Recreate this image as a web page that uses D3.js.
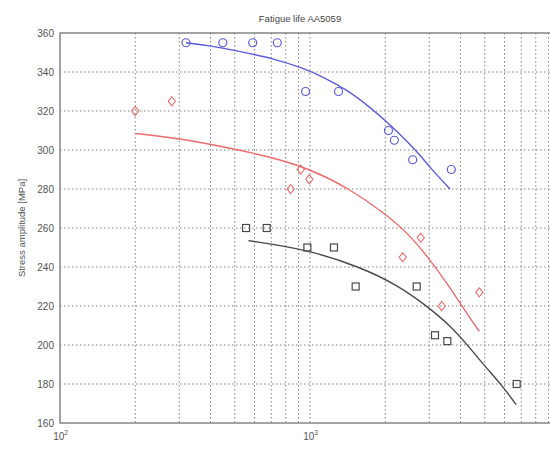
<!DOCTYPE html>
<html><head><meta charset="utf-8">
<script src="https://cdn.jsdelivr.net/npm/d3@7"></script>
<style>body{margin:0;background:#fff}svg{display:block}text{font-family:"Liberation Sans",Arial,sans-serif}</style>
</head><body><svg id="c" width="550" height="450"></svg>
<script>
const title = "Fatigue life AA5059";
const yLabel = "Stress amplitude [MPa]";
const yTicks = [160,180,200,220,240,260,280,300,320,340,360];
const xDecades = [100,1000];
// series A (blue circles)
const blueN = [319,448,590,740,960,1300,2060,2175,2575,3675];
const blueS = [355,355,355,355,330,330,310,305,295,290];
const blueFitN = [319,398,525,711,938,1127,1402,1738,2089,2672,3020,3631];
const blueFitS = [355,353.5,350.5,347,342,337.5,331,322,313,299.5,291,280];
// series B (red diamonds)
const redN = [200,280,837,918,994,2349,2773,3364,4755];
const redS = [320,325,280,290,285,245,255,220,227];
const redFitN = [200,300,500,692,994,1445,1965,2436,2973,3631,4297,4755];
const redFitS = [308.5,306,300.5,296.5,290.5,280,268,258,245,229.5,215,207];
// series C (black squares)
const blackN = [555,671,976,1247,1523,2672,3162,3542,6710];
const blackS = [260,260,250,250,230,230,205,202,180];
const blackFitN = [567,976,1585,2222,2973,3631,4297,4937,5934,6668];
const blackFitS = [253.5,249,240,231,219.5,210,199.5,190,178.5,169.5];

const svg = d3.select("#c");
const L=60,R=560,T=33,B=423;
const x = d3.scaleLog().domain([100,10000]).range([L,R]);
const y = d3.scaleLinear().domain([160,360]).range([B,T]);
const grid="#808080";

// minor log grid
const minor=[];
for(const d of [100,1000]) for(let k=2;k<=10;k++) minor.push(d*k);
svg.append("g").selectAll("line").data(minor).join("line")
  .attr("x1",d=>x(d)).attr("x2",d=>x(d)).attr("y1",T).attr("y2",B)
  .attr("stroke",grid).attr("stroke-width",1).attr("stroke-dasharray","1.5,2.5");
svg.append("g").selectAll("line").data(yTicks.slice(1,-1)).join("line")
  .attr("x1",L).attr("x2",R).attr("y1",d=>y(d)).attr("y2",d=>y(d))
  .attr("stroke",grid).attr("stroke-width",1).attr("stroke-dasharray","1.5,2.5");

// frame
svg.append("rect").attr("x",L).attr("y",T).attr("width",R-L).attr("height",B-T)
  .attr("fill","none").attr("stroke","#8c8c8c").attr("stroke-width",1.6);

// axes labels
const yAxis = d3.axisLeft(y).tickValues(yTicks).tickSize(0).tickPadding(6);
const gy = svg.append("g").attr("transform",`translate(${L},0)`).call(yAxis);
gy.select(".domain").remove();
gy.selectAll("text").attr("fill","#555").style("font-size","10px");

const xAxis = d3.axisBottom(x).tickValues(xDecades).tickSize(0).tickPadding(8).tickFormat(()=> "");
const gx = svg.append("g").attr("transform",`translate(0,${B})`).call(xAxis);
gx.select(".domain").remove();
gx.selectAll(".tick").each(function(d){
  const t=d3.select(this).append("text").attr("y",17).attr("fill","#555").attr("text-anchor","middle").style("font-size","10px");
  t.append("tspan").text("10");
  t.append("tspan").attr("dy",-5).style("font-size","6.5px").text(Math.round(Math.log10(d)));
});

svg.append("text").attr("x",300).attr("y",22).attr("text-anchor","middle")
  .attr("fill","#444").style("font-size","9.5px").text(title);
svg.append("text").attr("transform",`translate(25,${(T+B)/2}) rotate(-90)`)
  .attr("text-anchor","middle").attr("fill","#555").style("font-size","9.5px").text(yLabel);

const line = d3.line().x(d=>x(d[0])).y(d=>y(d[1])).curve(d3.curveBasis);
const zip=(a,b)=>a.map((v,i)=>[v,b[i]]);
const series=[
  {n:blueN,s:blueS,fn:blueFitN,fs:blueFitS,c:"#5b5bdc",m:"circle"},
  {n:redN,s:redS,fn:redFitN,fs:redFitS,c:"#ee6b6b",m:"diamond"},
  {n:blackN,s:blackS,fn:blackFitN,fs:blackFitS,c:"#4a4a4a",m:"square"}
];
series.forEach(se=>{
  svg.append("path").datum(zip(se.fn,se.fs)).attr("d",line)
    .attr("fill","none").attr("stroke",se.c).attr("stroke-width",1.4);
  const g=svg.append("g");
  const pts=zip(se.n,se.s);
  if(se.m==="circle"){
    g.selectAll("circle").data(pts).join("circle").attr("cx",d=>x(d[0])).attr("cy",d=>y(d[1])).attr("r",4)
      .attr("fill","none").attr("stroke",se.c).attr("stroke-width",1.2);
  } else if(se.m==="diamond"){
    g.selectAll("path").data(pts).join("path")
      .attr("d",d=>{const cx=x(d[0]),cy=y(d[1]),r=4.5;return `M${cx},${cy-r}L${cx+r*0.8},${cy}L${cx},${cy+r}L${cx-r*0.8},${cy}Z`;})
      .attr("fill","none").attr("stroke",se.c).attr("stroke-width",1.1);
  } else {
    g.selectAll("rect").data(pts).join("rect").attr("x",d=>x(d[0])-3.5).attr("y",d=>y(d[1])-3.5)
      .attr("width",7).attr("height",7).attr("fill","none").attr("stroke",se.c).attr("stroke-width",1.2);
  }
});
</script></body></html>
